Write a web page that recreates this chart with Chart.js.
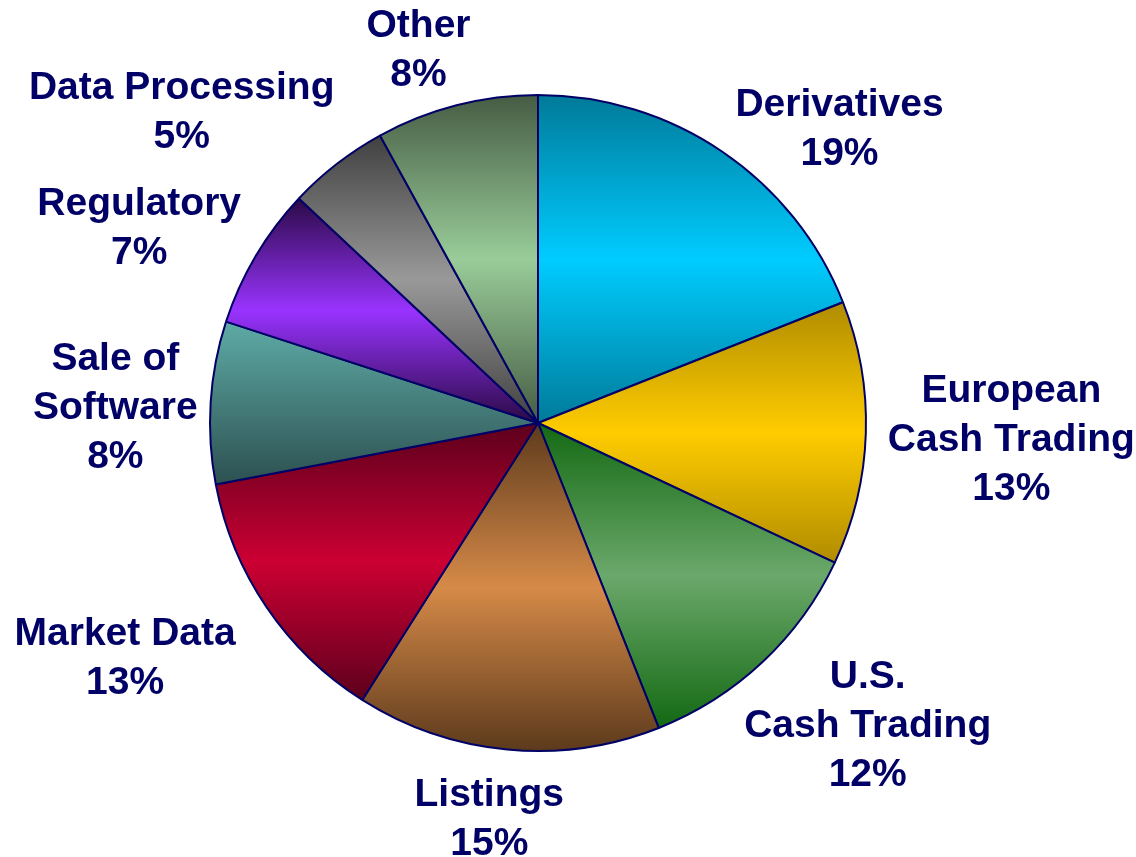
<!DOCTYPE html>
<html>
<head>
<meta charset="utf-8">
<script src="https://cdn.jsdelivr.net/npm/chart.js@4/dist/chart.umd.min.js"></script>
<style>
  html, body { margin: 0; padding: 0; background: #fff; }
  #wrap { width: 1136px; height: 857px; }
</style>
</head>
<body>
<div id="wrap"><canvas id="pie" width="1136" height="857"></canvas></div>
<script>
// revenue split, clockwise from 12 o'clock
const categories = [
    ['Derivatives'],
    ['European', 'Cash Trading'],
    ['U.S.', 'Cash Trading'],
    ['Listings'],
    ['Market Data'],
    ['Sale of', 'Software'],
    ['Regulatory'],
    ['Data Processing'],
    ['Other']
];
const shares = [19, 13, 12, 15, 13, 8, 7, 5, 8];

// edge / middle colours of each slice's vertical gradient
const darkColors = ['#007a99', '#b08c00', '#136913', '#5c3a1c', '#5c001c', '#2c5050', '#2a0a45', '#404040', '#465c44'];
const brightColors = ['#00ccff', '#ffcc00', '#6ba86b', '#d68a48', '#cc0033', '#5eaba6', '#9933ff', '#999999', '#99cc99'];

// small hand corrections for label placement
const labelNudge = [[14, 27], [5, 0], [-30, -14], [-5, 12], [-17, 4], [4, 10], [0, 9], [5, -2], [-13, -3]];

const RADIUS = 328;
const TEXT_COLOR = '#000066';
const FONT = 'bold 39px "Liberation Sans", Arial, sans-serif';
const LINE_H = 49;
const CAP_H = 28;

function angleInside(a0, a1, t) {
    return (t >= a0 && t <= a1) || (t + 2 * Math.PI >= a0 && t + 2 * Math.PI <= a1);
}

function sliceFill(context) {
    const i = context.dataIndex;
    const chart = context.chart;
    const area = chart.chartArea;
    if (!area) return brightColors[i];
    const cx = (area.left + area.right) / 2;
    const cy = (area.top + area.bottom) / 2;
    const total = shares.reduce((a, b) => a + b, 0);
    let before = 0;
    for (let k = 0; k < i; k++) before += shares[k];
    const a0 = -Math.PI / 2 + 2 * Math.PI * before / total;
    const a1 = a0 + 2 * Math.PI * shares[i] / total;
    const ys = [cy, cy + RADIUS * Math.sin(a0), cy + RADIUS * Math.sin(a1)];
    if (angleInside(a0, a1, -Math.PI / 2)) ys.push(cy - RADIUS);
    if (angleInside(a0, a1, Math.PI / 2)) ys.push(cy + RADIUS);
    const top = Math.min(...ys);
    const bottom = Math.max(...ys);
    const g = chart.ctx.createLinearGradient(cx, top, cx, bottom);
    if (i === 5) {
        // Sale of Software goes light to dark
        g.addColorStop(0, brightColors[i]);
        g.addColorStop(1, darkColors[i]);
    } else {
        g.addColorStop(0, darkColors[i]);
        g.addColorStop(0.5, brightColors[i]);
        g.addColorStop(1, darkColors[i]);
    }
    return g;
}

const outsideLabels = {
    id: 'outsideLabels',
    afterDatasetsDraw(chart) {
        const ctx = chart.ctx;
        const meta = chart.getDatasetMeta(0);
        const total = shares.reduce((a, b) => a + b, 0);
        ctx.save();
        ctx.font = FONT;
        ctx.fillStyle = TEXT_COLOR;
        ctx.textAlign = 'center';
        ctx.textBaseline = 'alphabetic';
        meta.data.forEach((arc, i) => {
            const p = arc.getProps(['x', 'y', 'startAngle', 'endAngle', 'outerRadius'], true);
            const mid = (p.startAngle + p.endAngle) / 2;
            const ux = Math.cos(mid), uy = Math.sin(mid);
            const ax = p.x + (p.outerRadius + 17) * ux;
            const ay = p.y + (p.outerRadius + 17) * uy;
            const lines = categories[i].concat([Math.round(shares[i] / total * 100) + '%']);
            const hw = Math.max(...lines.map(l => ctx.measureText(l).width)) / 2;
            const hh = ((lines.length - 1) * LINE_H + CAP_H) / 2;
            const fx = Math.max(-1, Math.min(1, 1.6 * ux));
            const fy = Math.max(-1, Math.min(1, 1.6 * uy));
            const bx = ax + hw * fx + labelNudge[i][0];
            const by = ay + hh * fy + labelNudge[i][1];
            const firstBase = by - hh + CAP_H;
            lines.forEach((line, j) => {
                ctx.fillText(line, bx, firstBase + j * LINE_H);
            });
        });
        ctx.restore();
    }
};

new Chart(document.getElementById('pie'), {
    type: 'pie',
    data: {
        labels: categories.map(c => c.join(' ')),
        datasets: [{
            data: shares,
            backgroundColor: sliceFill,
            borderColor: TEXT_COLOR,
            borderWidth: 2
        }]
    },
    options: {
        responsive: false,
        animation: false,
        radius: RADIUS,
        layout: { padding: { left: 0, right: 60, top: 0, bottom: 11 } },
        plugins: {
            legend: { display: false },
            tooltip: { enabled: false }
        }
    },
    plugins: [outsideLabels]
});
</script>
</body>
</html>
